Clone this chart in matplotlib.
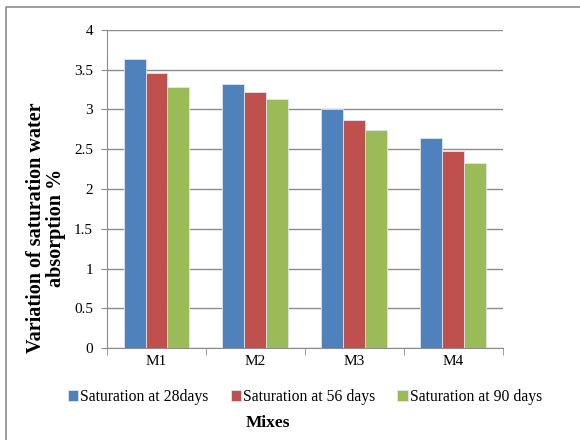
import numpy as np
import matplotlib
matplotlib.use('Agg')
import matplotlib.pyplot as plt
from matplotlib.lines import Line2D

plt.rcParams['font.family'] = ['Liberation Serif', 'DejaVu Serif']

# Data
mixes = ['M1', 'M2', 'M3', 'M4']
sat_28 = [3.64, 3.32, 3.00, 2.64]
sat_56 = [3.46, 3.22, 2.87, 2.48]
sat_90 = [3.28, 3.13, 2.74, 2.33]
series_names = ['Saturation at 28days', 'Saturation at 56 days', 'Saturation at 90 days']
colors = ['#4F81BD', '#C0504D', '#9BBB59']

fig = plt.figure(figsize=(5.8, 4.4), dpi=100)
ax = fig.add_axes([0.1845, 0.209, 0.6825, 0.723])

x = np.arange(len(mixes))
w = 0.222
for i, (vals, name, c) in enumerate(zip([sat_28, sat_56, sat_90], series_names, colors)):
    ax.bar(x + (i - 1) * w, vals, width=w, color=c, label=name,
           edgecolor='#dde6f0', linewidth=0.6, zorder=3)

ax.set_xlim(-0.5, len(mixes) - 0.5)
ax.set_ylim(0, 4)
ax.set_yticks(np.arange(0, 4.01, 0.5))
ax.set_yticklabels(['0', '0.5', '1', '1.5', '2', '2.5', '3', '3.5', '4'], fontsize=11)
ax.yaxis.grid(True, color='#8c8c8c', linewidth=1.0, zorder=0)

# category labels centred, tick marks between categories
ax.set_xticks(x)
ax.set_xticklabels(mixes, fontsize=11)
ax.tick_params(axis='x', length=0, pad=5)
ax.set_xticks(np.arange(-0.5, len(mixes)), minor=True)
ax.tick_params(axis='x', which='minor', length=5, color='#8c8c8c')
ax.tick_params(axis='y', length=4, color='#8c8c8c', pad=6)

for s in ['top', 'right']:
    ax.spines[s].set_visible(False)
for s in ['left', 'bottom']:
    ax.spines[s].set_color('#8c8c8c')

ax.set_ylabel('Variation of saturation water\nabsorption %', fontsize=14.5,
              fontweight='bold', linespacing=1.0)
ax.yaxis.label.set_va('center')
ax.yaxis.set_label_coords(-0.155, 0.377)

ax.legend(loc='upper center', bbox_to_anchor=(0.5, -0.085), ncol=3, frameon=False,
          fontsize=11.3, handlelength=0.65, handleheight=0.65, handletextpad=0.15,
          columnspacing=1.4)
fig.text(0.462, 0.038, 'Mixes', ha='center', va='center', fontsize=12.5, fontweight='bold')

# outer frame (only top and left edges visible in the original)
fig.lines.append(Line2D([0.0103, 0.0103, 1.0], [0.0, 0.984, 0.984], transform=fig.transFigure,
                        color='#8c8c8c', linewidth=1.2))

fig.savefig('out.png', dpi=100)
